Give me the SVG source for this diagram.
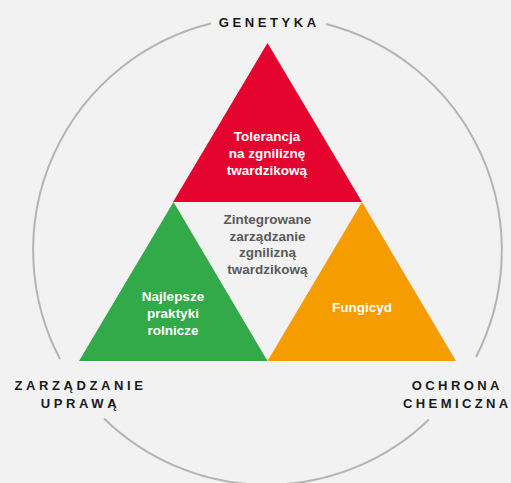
<svg xmlns="http://www.w3.org/2000/svg" width="511" height="483" viewBox="0 0 511 483">
  <style>
    .ring { fill: none; stroke: #b4b4b4; stroke-width: 2; }
    .lbl { font-family: "Liberation Sans", Arial, sans-serif; font-weight: bold; font-size: 13px; letter-spacing: 3.6px; fill: #1a1a1a; text-anchor: middle; }
    .tri { font-family: "Liberation Sans", Arial, sans-serif; font-weight: bold; font-size: 13.5px; fill: #ffffff; text-anchor: middle; }
    .mid { font-family: "Liberation Sans", Arial, sans-serif; font-weight: bold; font-size: 13.5px; fill: #5a5a5a; text-anchor: middle; }
  </style>
  <rect x="0" y="0" width="511" height="483" fill="#f2f2f2"/>
  <g id="connectors">
    <path class="ring" d="M 211 23.5 A 233.5 233.5 0 0 0 60 359"/>
    <path class="ring" d="M 104 418.5 A 233.5 233.5 0 0 0 429 419.5"/>
    <path class="ring" d="M 476 357 A 233.5 233.5 0 0 0 326 24"/>
  </g>
  <g id="genetyka">
    <text class="lbl" x="269.3" y="27">GENETYKA</text>
  </g>
  <g id="zarzadzanie-uprawa">
    <text class="lbl" x="80.5" y="390">ZARZĄDZANIE</text>
    <text class="lbl" x="80.5" y="408">UPRAWĄ</text>
  </g>
  <g id="ochrona-chemiczna">
    <text class="lbl" x="457.3" y="390" style="letter-spacing:3.4px">OCHRONA</text>
    <text class="lbl" x="457.3" y="408" style="letter-spacing:3.4px">CHEMICZNA</text>
  </g>
  <g id="tolerancja">
    <polygon points="267.5,43 362,202 173,202" fill="#e4032e"/>
    <text class="tri" x="267" y="141">Tolerancja</text>
    <text class="tri" x="267" y="158">na zgniliznę</text>
    <text class="tri" x="267" y="174.5">twardzikową</text>
  </g>
  <g id="najlepsze-praktyki">
    <polygon points="173.5,202 267.5,361 79,361" fill="#33aa4a"/>
    <text class="tri" x="173" y="300.5">Najlepsze</text>
    <text class="tri" x="173" y="317.5">praktyki</text>
    <text class="tri" x="173" y="334.5">rolnicze</text>
  </g>
  <g id="fungicyd">
    <polygon points="362,202 456,361 267.5,361" fill="#f59d00"/>
    <text class="tri" x="362" y="311.5">Fungicyd</text>
  </g>
  <g id="zintegrowane">
    <text class="mid" x="267.5" y="223.5">Zintegrowane</text>
    <text class="mid" x="267.5" y="240.5">zarządzanie</text>
    <text class="mid" x="267.5" y="257">zgnilizną</text>
    <text class="mid" x="267.5" y="274">twardzikową</text>
  </g>
</svg>
